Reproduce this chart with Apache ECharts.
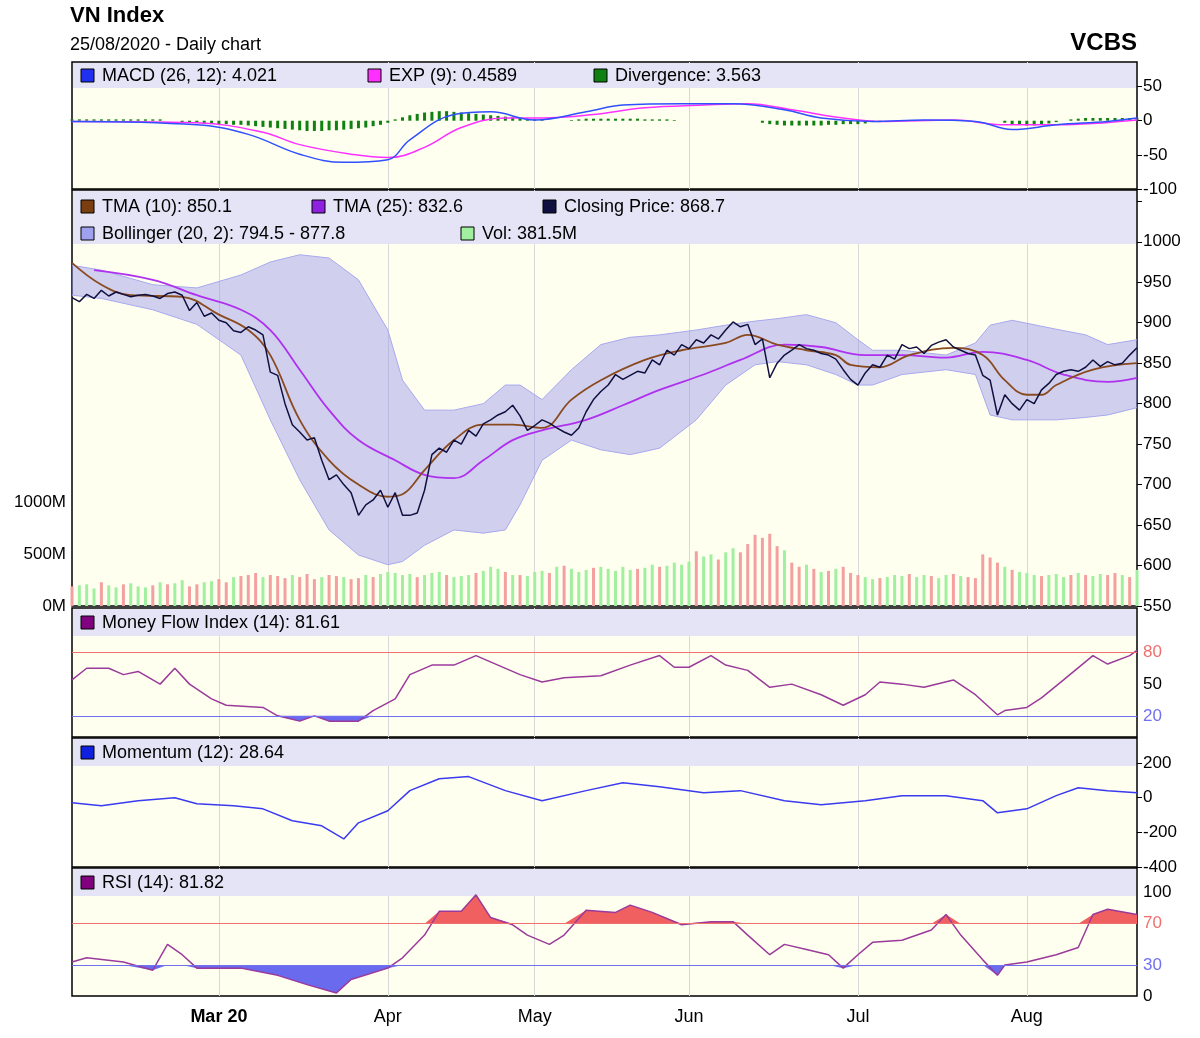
<!DOCTYPE html>
<html><head><meta charset="utf-8">
<script src="https://cdn.jsdelivr.net/npm/echarts@6/dist/echarts.min.js"></script>
<style>html,body{margin:0;background:#fff}#c{width:1200px;height:1038px}</style>
</head><body><div id="c"></div>
<script>
// trading days, 3 Feb .. 25 Aug 2020
var nDays = 146;
var monthTicks = {20: 'Mar 20', 43: 'Apr', 63: 'May', 84: 'Jun', 107: 'Jul', 130: 'Aug'};

var closePrice = [931,926,935,930,940,933,938,935,932,934,935,933,930,936,938,934,915,925,908,912,
  903,900,890,888,895,891,885,839,835,800,774,765,755,758,730,706,712,700,690,662,675,681,693,
  672,690,662,662,665,693,737,745,740,755,750,767,760,775,780,786,790,798,785,767,
  773,780,776,770,765,761,770,790,805,815,823,836,830,835,840,838,854,848,866,860,873,
  868,879,875,885,880,891,901,895,898,873,880,832,850,860,866,873,868,866,862,860,855,842,830,
  823,838,848,845,860,855,873,868,870,862,872,876,879,870,866,862,860,835,829,786,811,800,792,
  805,800,817,825,836,840,842,840,845,854,846,852,848,850,860,869];

// [day, value]
var tma10 = [[0,974],[4,947],[8,934],[15,932],[20,910],[24,891],[27,860],[31,780],[35,730],[39,700],[43,685],[45,688],[48,718],[52,755],[56,774],[60,774],[64,770],[68,805],[72,829],[78,854],[83,866],[89,875],[92,885],[96,873],[100,866],[104,860],[106,848],[110,845],[114,860],[120,869],[124,860],[127,829],[130,811],[132,811],[134,823],[139,842],[145,850]];
var tma25 = [[3,965],[11,953],[17,934],[23,916],[27,891],[31,842],[35,792],[39,755],[44,730],[48,712],[52,708],[56,730],[60,755],[64,767],[70,780],[75,798],[80,817],[86,836],[91,854],[97,873],[102,870],[108,860],[113,860],[119,857],[124,864],[130,854],[135,836],[141,827],[145,832]];
var bollX = [0,4,11,17,23,27,31,35,39,43,45,48,52,56,59,61,64,68,72,76,80,85,89,93,96,100,104,107,109,113,119,123,125,128,134,138,141,145];
var bollUp = [971,965,947,943,959,975,984,980,953,891,829,792,792,800,823,823,805,842,873,882,885,891,897,902,905,910,900,879,866,866,860,875,897,903,892,885,873,879];
var bollLow = [934,930,916,898,860,780,706,644,613,601,605,625,644,640,644,675,730,755,743,737,745,780,823,848,852,848,836,823,823,836,842,836,786,780,780,783,786,795];

var volume = [190,200,210,170,230,200,180,210,220,190,180,200,230,210,220,250,190,210,230,240,
  260,230,280,290,300,320,280,300,290,270,300,280,310,260,280,300,290,280,260,270,300,280,310,
  330,320,300,310,280,300,320,330,300,280,290,300,320,340,380,360,330,300,300,290,
  330,340,320,380,390,360,330,350,370,380,360,340,380,350,360,370,400,380,390,420,400,
  430,530,480,500,450,520,560,520,600,690,660,700,580,540,420,380,400,360,330,340,360,380,320,
  300,280,260,270,280,300,290,310,280,300,290,270,300,310,290,280,270,500,470,420,380,350,330,
  320,300,290,300,310,280,300,320,300,290,310,300,320,300,280,350];
var volDir = 'rgggrggrgggrgrggrrgg' + 'rrgrrrgrrrgrrrgrrgrrgrg' + 'ggggrgggrgggrgggrgrg' +
  'ggrgrgggrgggggrggrggg' + 'grggrggrrrrrrgrrgrgrgrr' + 'rggrgggrggrggrgrrrrrgrg' + 'ggrgggrgrggrrgrg';

var macdLine = [[0,-1],[17,-6],[24,-20],[31,-49],[37,-61],[43,-57],[46,-28],[52,9],[57,13],[63,1],[70,13],[75,23],[83,25],[90,25],[97,16],[102,4],[109,-1],[116,1],[123,-1],[128,-13],[134,-6],[141,-1],[145,4]];
var expLine = [[0,-1],[17,-3],[26,-17],[31,-35],[38,-49],[43,-54],[48,-39],[53,-10],[59,4],[64,4],[71,9],[78,19],[86,23],[92,25],[98,16],[105,4],[110,-1],[120,1],[127,-6],[134,-6],[145,1]];
var divergence = [2,2,2,2,2,2,2,2,2,2,2,2,2,0,0,-2,-3,-3,-4,-4,
  -5,-5,-6,-6,-7,-8,-9,-10,-11,-12,-13,-14,-15,-15,-15,-14,-14,-13,-12,-11,-10,-8,-6,
  -3,2,5,8,10,12,13,14,14,13,12,11,10,9,8,7,6,5,4,3,
  2,1,0,0,0,1,2,3,3,3,3,3,3,3,3,2,2,2,2,1,0,
  0,0,0,0,0,0,0,0,0,0,-3,-5,-6,-7,-7,-7,-7,-7,-7,-6,-6,-5,-5,
  -5,-4,-2,-1,0,0,0,0,0,0,0,0,0,0,0,0,0,0,0,0,-3,-5,-6,
  -7,-7,-6,-4,-2,0,2,3,4,4,4,4,4,4,4,4];

var mfi = [[0,54],[2,65],[5,65],[7,59],[9,62],[12,50],[14,65],[16,50],[19,36],[21,30],[26,28],[28,20],[31,15],[33,20],[35,15],[39,15],[41,25],[44,36],[46,59],[49,68],[52,68],[55,77],[58,68],[61,59],[64,52],[67,56],[72,58],[76,68],[80,77],[82,66],[84,66],[87,77],[89,68],[92,63],[95,47],[98,50],[102,40],[105,30],[108,40],[110,52],[113,50],[116,47],[120,54],[123,40],[126,21],[127,25],[130,28],[132,37],[135,54],[139,77],[141,69],[144,77],[145,82]];
var momentum = [[0,-29],[4,-46],[9,-17],[14,0],[17,-35],[22,-46],[26,-64],[30,-133],[34,-162],[37,-238],[39,-145],[43,-75],[46,41],[50,110],[54,122],[59,41],[64,-17],[70,41],[75,87],[80,64],[86,29],[91,41],[97,-17],[102,-41],[108,-17],[113,12],[119,12],[124,-17],[126,-87],[130,-64],[134,12],[137,58],[141,41],[145,29]];
var rsi = [[0,33],[2,37],[7,33],[11,25],[13,50],[15,40],[17,27],[23,27],[28,20],[32,11],[36,3],[38,16],[43,27],[45,37],[48,59],[50,82],[53,82],[55,98],[57,76],[60,69],[62,59],[65,50],[67,59],[70,83],[74,81],[76,88],[79,81],[83,69],[87,72],[90,72],[92,59],[95,40],[97,50],[100,45],[103,40],[105,27],[107,40],[109,52],[113,54],[117,64],[119,79],[121,59],[124,35],[126,20],[127,30],[130,33],[134,40],[137,47],[139,79],[141,84],[145,79]];

var cats = [];
for (var i = 0; i < nDays; i++) cats.push(String(i));
var isMonth = function (idx) { return monthTicks[idx] !== undefined; };

var panels = [
  {top: 62, height: 127},
  {top: 190, height: 416},
  {top: 608, height: 129},
  {top: 738, height: 129},
  {top: 868, height: 128}
];
var font = 'Liberation Sans';
var grids = panels.map(function (p) {
  return {left: 72, right: 63, top: p.top, height: p.height, show: true,
    backgroundColor: '#fffff0', borderColor: '#000', borderWidth: 1.5};
});
var xAxes = panels.map(function (p, k) {
  return {type: 'category', gridIndex: k, data: cats, boundaryGap: false,
    axisLine: {show: false}, axisTick: {show: false},
    axisLabel: {show: k === 4, interval: function (idx) { return isMonth(idx); },
      formatter: function (v) {
        var t = monthTicks[v] || '';
        return t === 'Mar 20' ? '{b|Mar 20}' : t;
      },
      color: '#000', fontFamily: font, fontSize: 18, margin: 12,
      rich: {b: {fontWeight: 'bold', fontSize: 18, fontFamily: font}}},
    splitLine: {show: true, interval: function (idx) { return isMonth(idx); },
      lineStyle: {color: '#d8d8d8'}}};
});
var axLabel = {color: '#000', fontFamily: font, fontSize: 17, margin: 6, showMaxLabel: false,
  formatter: function (v) { return String(v); }};
var noMax = function (f) { return Object.assign({}, axLabel, {formatter: f}); };
var yAxes = [
  {gridIndex: 0, position: 'right', min: -100, max: 86, interval: 50, axisLabel: axLabel,
    splitLine: {show: false}, axisLine: {show: false}, axisTick: {show: true, lineStyle: {color: '#000'}}},
  {gridIndex: 1, position: 'right', min: 550, max: 1064, interval: 50,
    axisLabel: noMax(function (v) { return v <= 1000 ? String(v) : ''; }),
    splitLine: {show: false}, axisLine: {show: false}, axisTick: {show: true, lineStyle: {color: '#000'}}},
  {gridIndex: 1, position: 'left', min: 0, max: 4030, interval: 500,
    axisLabel: noMax(function (v) { return v <= 1000 ? v + 'M' : ''; }),
    splitLine: {show: false}, axisLine: {show: false}, axisTick: {show: false}},
  {gridIndex: 2, position: 'right', min: 0, max: 122, interval: 10,
    axisLabel: Object.assign({}, axLabel, {formatter: function (v) {
      return v === 80 ? '{r|80}' : v === 20 ? '{b|20}' : v === 50 ? '50' : ''; },
      rich: {r: {color: '#f07070', fontSize: 17, fontFamily: font}, b: {color: '#7070f0', fontSize: 17, fontFamily: font}}}),
    splitLine: {show: false}, axisLine: {show: false}, axisTick: {show: false}},
  {gridIndex: 3, position: 'right', min: -400, max: 345, interval: 200, axisLabel: axLabel,
    splitLine: {show: false}, axisLine: {show: false}, axisTick: {show: true, lineStyle: {color: '#000'}}},
  {gridIndex: 4, position: 'right', min: 0, max: 124, interval: 10,
    axisLabel: Object.assign({}, axLabel, {formatter: function (v) {
      return v === 70 ? '{r|70}' : v === 30 ? '{b|30}' : (v === 0 || v === 100) ? String(v) : ''; },
      rich: {r: {color: '#f07070', fontSize: 17, fontFamily: font}, b: {color: '#7070f0', fontSize: 17, fontFamily: font}}}),
    splitLine: {show: false}, axisLine: {show: false}, axisTick: {show: false}}
];

function line(xi, yi, data, color, w, z, smooth) {
  return {type: 'line', xAxisIndex: xi, yAxisIndex: yi, data: data, showSymbol: false,
    smooth: smooth || false, lineStyle: {color: color, width: w || 1.5}, z: z || 3, silent: true};
}
function band(xi, yi, xs, lo, hi, stack, color, smooth) {
  return [
    {type: 'line', xAxisIndex: xi, yAxisIndex: yi, stack: stack, showSymbol: false, silent: true, smooth: smooth || false,
      data: xs.map(function (x, k) { return [x, lo[k]]; }), lineStyle: {width: 0}, z: 2},
    {type: 'line', xAxisIndex: xi, yAxisIndex: yi, stack: stack, showSymbol: false, silent: true, smooth: smooth || false,
      data: xs.map(function (x, k) { return [x, hi[k] - lo[k]]; }), lineStyle: {width: 0},
      areaStyle: {color: color, opacity: 1}, z: 2}
  ];
}
function pick(arr, i) { return arr.map(function (p) { return p[i]; }); }

var series = [];
// MACD
series.push({type: 'bar', xAxisIndex: 0, yAxisIndex: 0, data: divergence, barWidth: 3,
  itemStyle: {color: '#108010'}, silent: true});
series.push(line(0, 0, expLine, '#ff30ff', 1.5, 3, 0.4));
series.push(line(0, 0, macdLine, '#3050ff', 1.5, 3, 0.4));
// main
series.push({type: 'bar', xAxisIndex: 1, yAxisIndex: 2, barWidth: 3, silent: true, z: 1,
  data: volume.map(function (v, k) {
    return {value: v, itemStyle: {color: volDir[k] === 'r' ? '#f4a0a0' : '#a0f0a0'}};
  })});
series = series.concat(band(1, 1, bollX, bollLow, bollUp, 'boll', 'rgba(150,150,235,0.45)'));
series.push(line(1, 1, bollX.map(function (x, k) { return [x, bollUp[k]]; }), '#a8a8ee', 1, 2));
series.push(line(1, 1, bollX.map(function (x, k) { return [x, bollLow[k]]; }), '#a8a8ee', 1, 2));
series.push(line(1, 1, tma25, '#b030f0', 1.8, 3, 0.4));
series.push(line(1, 1, tma10, '#8a4a20', 1.8, 3, 0.4));
series.push(line(1, 1, closePrice, '#101040', 1.5, 4));
// MFI
var mfiX = pick(mfi, 0), mfiV = pick(mfi, 1);
series = series.concat(band(2, 3, mfiX, mfiV.map(function (v) { return Math.min(v, 20); }),
  mfiV.map(function () { return 20; }), 'mfiLow', '#6a6aee'));
series.push(Object.assign(line(2, 3, mfi, '#9a3a9a', 1.5), {
  markLine: {symbol: 'none', silent: true, label: {show: false},
    data: [{yAxis: 80, lineStyle: {color: '#f07070', type: 'solid', width: 1.2}},
           {yAxis: 20, lineStyle: {color: '#7070f0', type: 'solid', width: 1.2}}]}}));
// momentum
series.push(line(3, 4, momentum, '#3a3af0', 1.5));
// RSI
var rsiX = pick(rsi, 0), rsiV = pick(rsi, 1);
series = series.concat(band(4, 5, rsiX, rsiX.map(function () { return 70; }),
  rsiV.map(function (v) { return Math.max(v, 70); }), 'rsiHi', '#f06060'));
series = series.concat(band(4, 5, rsiX, rsiV.map(function (v) { return Math.min(v, 30); }),
  rsiX.map(function () { return 30; }), 'rsiLow', '#6a6aee'));
series.push(Object.assign(line(4, 5, rsi, '#9a3a9a', 1.5), {
  markLine: {symbol: 'none', silent: true, label: {show: false},
    data: [{yAxis: 70, lineStyle: {color: '#f07070', type: 'solid', width: 1.2}},
           {yAxis: 30, lineStyle: {color: '#7070f0', type: 'solid', width: 1.2}}]}}));

// legend bands
var bandH = [25, 53, 27, 27, 27];
var legends = [
  [[81, 76, '#2030f0', 'MACD (26, 12): 4.021'], [368, 76, '#ff30ff', 'EXP (9): 0.4589'], [594, 76, '#108010', 'Divergence: 3.563']],
  [[81, 207, '#7a3e10', 'TMA (10): 850.1'], [312, 207, '#9020e0', 'TMA (25): 832.6'], [543, 207, '#101040', 'Closing Price: 868.7'],
   [81, 234, '#a0a0f0', 'Bollinger (20, 2): 794.5 - 877.8'], [461, 234, '#a0f0a0', 'Vol: 381.5M']],
  [[81, 623, '#800080', 'Money Flow Index (14): 81.61']],
  [[81, 753, '#1020e0', 'Momentum (12): 28.64']],
  [[81, 883, '#800080', 'RSI (14): 81.82']]
];
var graphics = [];
panels.forEach(function (p, k) {
  graphics.push({type: 'rect', z: 1, shape: {x: 73, y: p.top + 1, width: 1063, height: bandH[k]},
    style: {fill: '#e4e4f6'}, silent: true});
});
legends.forEach(function (items) {
  items.forEach(function (it) {
    graphics.push({type: 'rect', z: 5, shape: {x: it[0], y: it[1] - 7, width: 13, height: 13},
      style: {fill: it[2], stroke: '#000', lineWidth: 1}});
    graphics.push({type: 'text', z: 5, x: it[0] + 21, y: it[1],
      style: {text: it[3], fill: '#000', font: '18px "Liberation Sans"', textVerticalAlign: 'middle'}});
  });
});
graphics.push({type: 'text', x: 70, y: 16, style: {text: 'VN Index', fill: '#000',
  font: 'bold 22px "Liberation Sans"', textVerticalAlign: 'middle'}});
graphics.push({type: 'text', x: 70, y: 45, style: {text: '25/08/2020 - Daily chart', fill: '#000',
  font: '18px "Liberation Sans"', textVerticalAlign: 'middle'}});
graphics.push({type: 'text', x: 1137, y: 43, style: {text: 'VCBS', fill: '#000',
  font: 'bold 24px "Liberation Sans"', textAlign: 'right', textVerticalAlign: 'middle'}});

var chart = echarts.init(document.getElementById('c'));
chart.setOption({
  backgroundColor: '#ffffff',
  animation: false,
  grid: grids,
  xAxis: xAxes,
  yAxis: yAxes,
  series: series,
  graphic: graphics
});
</script>
</body></html>
